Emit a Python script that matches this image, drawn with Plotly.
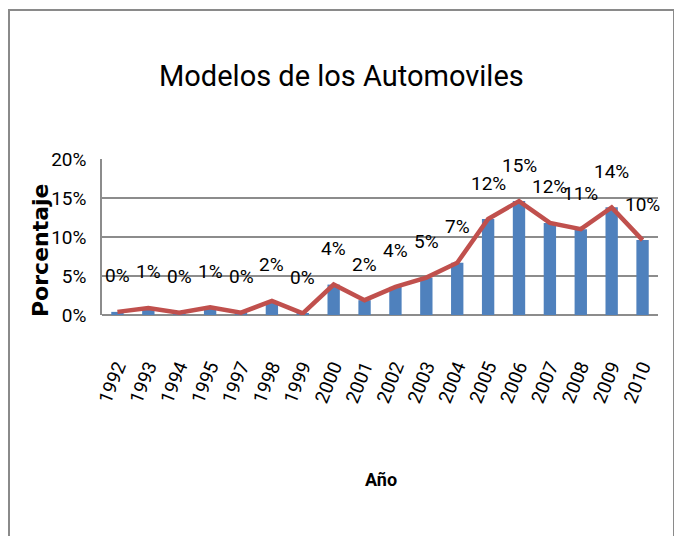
import plotly.graph_objects as go

years = ["1992", "1993", "1994", "1995", "1997", "1998", "1999", "2000", "2001",
         "2002", "2003", "2004", "2005", "2006", "2007", "2008", "2009", "2010"]
porcentaje = [0.4, 0.9, 0.3, 1.0, 0.3, 1.8, 0.2, 3.9, 1.9,
              3.6, 4.8, 6.7, 12.3, 14.6, 11.8, 11.0, 13.8, 9.6]
y_ticks = [0, 5, 10, 15, 20]
y_tick_labels = ["0%", "5%", "10%", "15%", "20%"]

title_text = "Modelos de los Automoviles"
x_title = "Año"
y_title = "Porcentaje"

# the page body adds an 8px offset; the figure is sized to fit inside the window
OFF = 8
W, H = 682 - OFF, 536 - OFF
L, R, T, B = 102 - OFF, 24, 159 - OFF, 536 - 315
pw, ph = W - L - R, H - T - B

FONT = "Roboto, sans-serif"

fig = go.Figure()
fig.add_trace(go.Bar(x=years, y=porcentaje, marker_color="#4F81BD",
                     marker_line_width=0, showlegend=False))
fig.add_trace(go.Scatter(x=years, y=porcentaje, mode="lines",
                         line=dict(color="#C0504D", width=4.5), showlegend=False))

annotations = []
for i, v in enumerate(porcentaje):
    annotations.append(dict(x=i, y=v, xref="x", yref="y", text=f"{round(v):d}%",
                            showarrow=False, yshift=36,
                            font=dict(family=FONT, size=19, color="#000")))

def px_x(px):
    return (px - OFF - L) / pw

def px_y(py):
    return (H - B - (py - OFF)) / ph

annotations.append(dict(x=px_x(341), y=px_y(76), xref="paper", yref="paper",
                        xanchor="center", yanchor="middle",
                        text=title_text, showarrow=False,
                        font=dict(family=FONT, size=29, color="#000")))
annotations.append(dict(x=px_x(381), y=px_y(480), xref="paper", yref="paper",
                        xanchor="center", yanchor="middle",
                        text=f"<b>{x_title}</b>", showarrow=False,
                        font=dict(family=FONT, size=18, color="#000")))
annotations.append(dict(x=px_x(40), y=px_y(250), xref="paper", yref="paper",
                        xanchor="center", yanchor="middle",
                        text=f"<b>{y_title}</b>", showarrow=False, textangle=-90,
                        font=dict(family="DejaVu Sans, sans-serif", size=22,
                                  color="#000")))

fig.update_layout(
    width=W, height=H,
    margin=dict(l=L, r=R, t=T, b=B),
    paper_bgcolor="white", plot_bgcolor="white",
    bargap=0.6,
    annotations=annotations,
    shapes=[dict(type="rect", xref="paper", yref="paper",
                 x0=px_x(9), x1=px_x(674), y0=px_y(10), y1=px_y(560),
                 line=dict(color="#8a8a8a", width=2), fillcolor="rgba(0,0,0,0)",
                 layer="below")],
    xaxis=dict(type="category", showgrid=False, showline=False, ticks="",
               range=[-0.5, len(years) - 0.5],
               tickangle=-68, ticklabelstandoff=36,
               tickfont=dict(family=FONT, size=19, color="#000")),
    yaxis=dict(range=[0, 20], tickvals=y_ticks, ticktext=y_tick_labels,
               showgrid=True, gridcolor="#8c8c8c", gridwidth=1.5,
               zeroline=True, zerolinecolor="#8c8c8c", zerolinewidth=1.5,
               showline=True, linecolor="#8c8c8c", linewidth=1.5,
               ticks="", ticklabelstandoff=10,
               tickfont=dict(family=FONT, size=19, color="#000")),
)

fig.write_html("out.html")
